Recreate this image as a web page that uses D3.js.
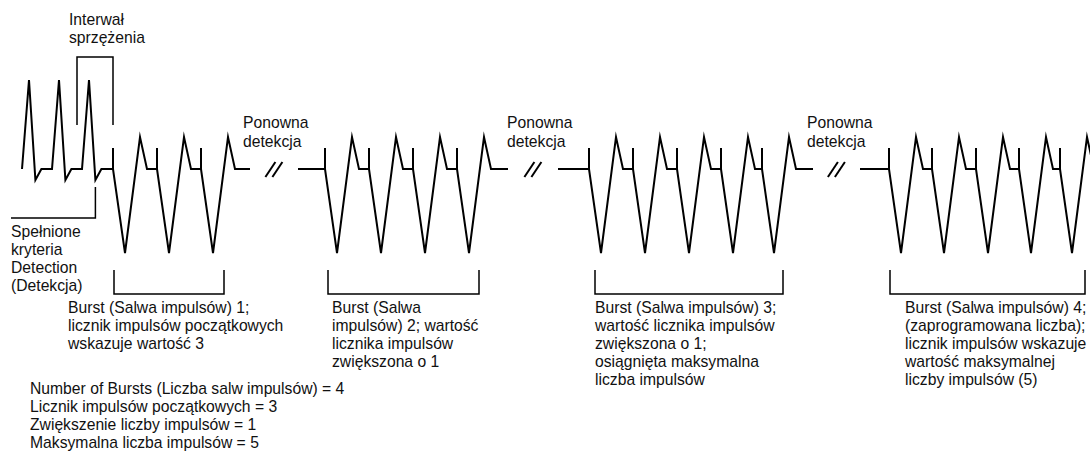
<!DOCTYPE html>
<html><head><meta charset="utf-8">
<script src="https://cdn.jsdelivr.net/npm/d3@7"></script>
<style>
body{margin:0;background:#fff;}
svg text{font-family:"Liberation Sans",Arial,Helvetica,sans-serif;font-size:15.7px;fill:#111;}
</style>
</head><body>
<svg id="c" width="1090" height="455"></svg>
<script>
// ---- data (time in ms, amplitude in arbitrary units) ----
const intrinsicPeaks = [145, 295, 445];
const burstPaceTimes = [
  [565, 785, 1005],
  [1625, 1845, 2065, 2285],
  [2945, 3165, 3385, 3605, 3810],
  [4445, 4660, 4880, 5095, 5300]
];
const segmentStarts = [110, 1490, 2790, 4300];
const segmentEnds   = [1250, 2540, 4065, 5470];
const detectionTime = 477;
const couplingInterval = [385, 565];
const burstBracketStart = [570, 1640, 2975, 4450];
const burstBracketEnd   = [1120, 2395, 3915, 5425];
const burstLabels = [
  ["Burst (Salwa impulsów) 1;", "licznik impulsów początkowych", "wskazuje wartość 3"],
  ["Burst (Salwa", "impulsów) 2; wartość", "licznika impulsów", "zwiększona o 1"],
  ["Burst (Salwa impulsów) 3;", "wartość licznika impulsów", "zwiększona o 1;", "osiągnięta maksymalna", "liczba impulsów"],
  ["Burst (Salwa impulsów) 4;", "(zaprogramowana liczba);", "licznik impulsów wskazuje", "wartość maksymalnej", "liczby impulsów (5)"]
];
const redetectLabel = ["Ponowna", "detekcja"];
const couplingLabel = ["Interwał", "sprzężenia"];
const detectionLabel = ["Spełnione", "kryteria", "Detection", "(Detekcja)"];
const paramLines = [
  "Number of Bursts (Liczba salw impulsów) = 4",
  "Licznik impulsów początkowych = 3",
  "Zwiększenie liczby impulsów = 1",
  "Maksymalna liczba impulsów = 5"
];

// ---- scales ----
const svg = d3.select("#c");
const x = d3.scaleLinear().domain([0, 5450]).range([0, 1090]);
const y = d3.scaleLinear().domain([-84, 89]).range([253, 80]);
const line = d3.line().x(d => x(d[0])).y(d => y(d[1]));

// waveform templates (offset ms, amplitude)
const intrinsicShape = [[-35, 0], [0, 89], [32, -11], [62, 0]];
const pacedShape = [[0, 0], [60, -84], [135, 32], [170, 0]];
const markerHeight = 21;

// build segments
const segments = segmentStarts.map((s, i) => {
  const pts = [[s, 0]];
  if (i === 0) intrinsicPeaks.forEach(p => intrinsicShape.forEach(o => pts.push([p + o[0], o[1]])));
  burstPaceTimes[i].forEach(m => pacedShape.forEach(o => pts.push([m + o[0], o[1]])));
  pts.push([segmentEnds[i], 0]);
  return pts;
});

const g = svg.append("g");
g.selectAll("path.wave").data(segments).join("path")
  .attr("class", "wave").attr("d", line)
  .attr("fill", "none").attr("stroke", "#000").attr("stroke-width", 2)
  .attr("stroke-linejoin", "miter").attr("stroke-miterlimit", 6);

// pace markers
g.selectAll("line.pm").data(burstPaceTimes.flat()).join("line")
  .attr("class", "pm")
  .attr("x1", d => x(d)).attr("x2", d => x(d))
  .attr("y1", y(markerHeight)).attr("y2", y(0))
  .attr("stroke", "#000").attr("stroke-width", 2);

// break marks //
const breaks = segmentEnds.slice(0, 3).map((e, i) => (e + segmentStarts[i + 1]) / 2);
breaks.forEach(c => {
  [-35, 0].forEach(off => {
    g.append("line")
      .attr("x1", x(c + off - 8)).attr("y1", y(-8))
      .attr("x2", x(c + off + 42)).attr("y2", y(7))
      .attr("stroke", "#000").attr("stroke-width", 2);
  });
});

// coupling interval bracket
g.append("path")
  .attr("d", d3.line()([[x(couplingInterval[0]), y(44)], [x(couplingInterval[0]), y(112)],
                        [x(couplingInterval[1]), y(112)], [x(couplingInterval[1]), y(44)]]))
  .attr("fill", "none").attr("stroke", "#000").attr("stroke-width", 1.5);

// detection marker
g.append("path")
  .attr("d", d3.line()([[x(detectionTime), y(-18)], [x(detectionTime), y(-49)], [x(55), y(-49)]]))
  .attr("fill", "none").attr("stroke", "#000").attr("stroke-width", 1.5);

// burst brackets
burstBracketStart.forEach((s, i) => {
  g.append("path")
    .attr("d", d3.line()([[x(s), y(-101)], [x(s), y(-125)], [x(burstBracketEnd[i]), y(-125)], [x(burstBracketEnd[i]), y(-101)]]))
    .attr("fill", "none").attr("stroke", "#000").attr("stroke-width", 1.5);
});

// ---- text ----
function block(lines, px, py, lh) {
  const t = svg.append("text");
  lines.forEach((s, i) => t.append("tspan").attr("x", px).attr("y", py + i * lh).text(s));
}
const LH = 18;
block(couplingLabel, 69, 25, 18);
[243, 507, 807].forEach(px => block(redetectLabel, px, 128, 19));
block(detectionLabel, 11, 237, LH);
[68, 332, 595, 905].forEach((px, i) => block(burstLabels[i], px, 313, LH));
block(paramLines, 30, 394, LH);
</script>
</body></html>
